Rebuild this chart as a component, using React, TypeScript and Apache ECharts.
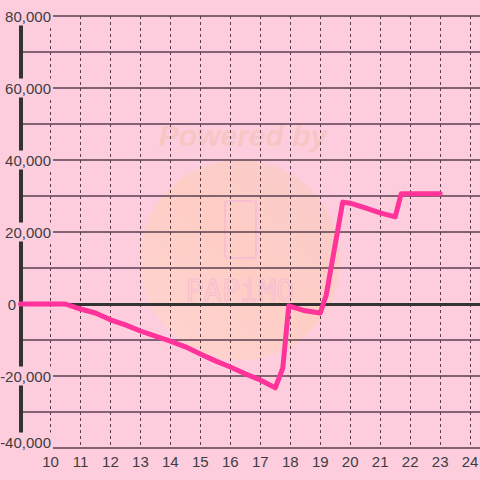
import React, { useEffect, useRef } from "react";
import * as echarts from "echarts";

const xValues = [9, 10.5, 11, 11.5, 12, 12.5, 13, 13.5, 14, 14.5, 15, 15.5, 16, 16.5, 17, 17.5, 17.75, 17.95, 18.5, 19, 19.2, 19.75, 20, 20.5, 21, 21.5, 21.7, 23];
const yValues = [0, 0, -1400, -2500, -4400, -5800, -7500, -8900, -10300, -11900, -13900, -15800, -17500, -19400, -21100, -23300, -17800, -500, -1900, -2500, 2500, 28300, 28000, 26700, 25300, 24200, 30600, 30600];

const BG = "#fdcddd";
const GRID = "#5a3f4f";
const TEXT = "#3d3d3d";

export default function App() {
  const ref = useRef<HTMLDivElement>(null);
  useEffect(() => {
    if (!ref.current) return;
    const chart = echarts.init(ref.current, null, { renderer: "svg" });
    const data = xValues.map((x, i) => [x, yValues[i]]);
    chart.setOption({
      animation: false,
      backgroundColor: BG,
      textStyle: { fontFamily: "Liberation Sans, Arial, sans-serif" },
      grid: { left: 20.5, right: 0, top: 16, bottom: 32, outerBoundsMode: "none", containLabel: false },
      graphic: [
        {
          type: "circle",
          z: -10,
          silent: true,
          shape: { cx: 240, cy: 260, r: 100 },
          style: {
            opacity: 0.5,
            fill: new echarts.graphic.LinearGradient(1, 0, 0, 1, [
              { offset: 0, color: "#f5c6b8" },
              { offset: 0.5, color: "#ffcfae" },
              { offset: 1, color: "#ffdac4" },
            ]),
          },
        },
        {
          type: "text",
          z: -10,
          silent: true,
          x: 243,
          y: 135,
          style: {
            text: "Powered by",
            font: "italic bold 30px Liberation Sans, Arial, sans-serif",
            fill: "#f6c3bd",
            opacity: 0.8,
            align: "center",
            verticalAlign: "middle",
          },
        },
        {
          type: "rect",
          z: -10,
          silent: true,
          shape: { x: 225, y: 201, width: 31, height: 57, r: 3 },
          style: { fill: "none", stroke: "#f7bcd3", lineWidth: 2, opacity: 0.9 },
        },
        {
          type: "text",
          z: -10,
          silent: true,
          x: 240,
          y: 290,
          style: {
            text: "PAPiMO",
            font: "30px DejaVu Sans Mono, monospace",
            fill: "none",
            stroke: "#f7bcd3",
            lineWidth: 1.2,
            align: "center",
            verticalAlign: "middle",
            opacity: 0.9,
          },
        },
      ],
      xAxis: [
        {
          type: "value",
          min: 9,
          max: 24.33,
          interval: 1,
          position: "bottom",
          axisLine: { show: false, onZero: false },
          axisTick: { show: false },
          splitLine: { show: true, lineStyle: { color: GRID, width: 1, type: [3, 3] } },
          axisLabel: {
            color: TEXT,
            fontSize: 15,
            margin: 6,
            showMaxLabel: false,
            formatter: (v: number) => (v === 9 ? "" : String(v)),
          },
        },
        {
          type: "value",
          min: 9,
          max: 24.33,
          position: "top",
          axisLine: { show: true, onZero: true, lineStyle: { color: "#333333", width: 3 } },
          axisTick: { show: false },
          axisLabel: { show: false },
          splitLine: { show: false },
        },
      ],
      yAxis: [
        {
          type: "value",
          min: -40000,
          max: 80000,
          interval: 10000,
          position: "left",
          z: 0,
          axisLine: { show: false },
          axisTick: { show: false },
          axisLabel: { show: false },
          splitLine: { show: true, lineStyle: { color: GRID, width: 1.5 } },
        },
        {
          type: "value",
          min: -40000,
          max: 80000,
          interval: 20000,
          position: "left",
          z: 1,
          axisLine: { show: true, onZero: false, lineStyle: { color: "#333333", width: 4 } },
          axisTick: { show: false },
          splitLine: { show: false },
          axisLabel: {
            margin: -32.5,
            formatter: (v: number) => {
              if (v === 0) return "{z|0}";
              const s = v.toLocaleString("en-US");
              if (v === -40000) return "{b|" + s + "}\n{s| }";
              return "{b|" + s + "}";
            },
            rich: {
              b: {
                color: TEXT,
                fontSize: 15,
                backgroundColor: BG,
                padding: [2, 2, 2, 2],
              },
              s: {
                fontSize: 1,
                height: 12,
              },
              z: {
                color: TEXT,
                fontSize: 15,
                padding: [0, 37, 0, 0],
              },
            },
          },
        },
      ],
      series: [
        {
          type: "line",
          xAxisIndex: 0,
          yAxisIndex: 0,
          data,
          symbol: "none",
          lineStyle: { color: "#ff3399", width: 5, cap: "round", join: "round" },
        },
      ],
    });
    return () => chart.dispose();
  }, []);
  return <div ref={ref} style={{ width: 480, height: 480, position: "absolute", left: 0, top: 0 }} />;
}
